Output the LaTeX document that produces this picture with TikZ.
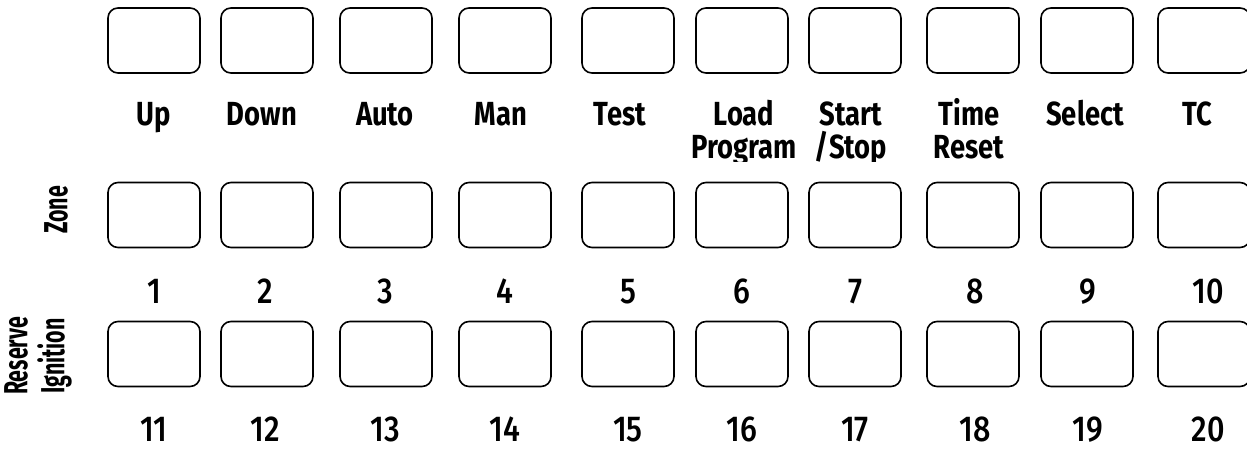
\documentclass[tikz,border=0pt]{standalone}
\usepackage{fontspec}
\setmainfont{Fira Sans}
\newfontfamily\labfont{Fira Sans}[FakeStretch=0.82]
\newfontfamily\numfont{Fira Sans}[FakeStretch=0.85,UprightFont=* Medium]
\newfontfamily\sidefont{Fira Sans}[FakeStretch=0.64]
\begin{document}
\begin{tikzpicture}[x=1pt,y=-1pt,
  key/.style={draw, line width=1.6pt, rounded corners=10pt, minimum width=92pt, minimum height=65pt, inner sep=0pt},
  lab/.style={font=\labfont\bfseries\fontsize{33.4}{33}\selectfont, align=center, anchor=base, inner sep=0pt},
  num/.style={font=\numfont\fontsize{36}{36}\selectfont, anchor=base, inner sep=0pt, text depth=0pt},
  side/.style={font=\sidefont\bfseries\fontsize{33.4}{37}\selectfont, align=center, rotate=90, inner sep=0pt}]
\clip (0,0) rectangle (1247,452);
\foreach \i/\x in {1/154,2/267,3/386,4/505,5/628,6/742,7/855,8/973,9/1087,10/1204} {
  \node[key] (t\i) at (\x,40.5) {};
  \node[key] (z\i) at (\x,215) {};
  \node[key] (r\i) at (\x,354) {};
}
\begin{scope}
\clip (0,0) rectangle (1247,161);
\foreach \n/\x/\y/\t in {up/154/125/Up, down/262/125/Down, auto/385/125/Auto, man/501/125/Man, test/620/125/Test,
  load/744/158/{Load\\Program}, start/851/158/{Start\\/Stop}, time/969/158/{Time\\Reset}, select/1085/125/Select, tc/1197/125/TC} {
  \node[lab] (l-\n) at (\x,\y) {\t};
}
\end{scope}
\foreach \a/\b/\x in {1/11/154,2/12/265,3/13/385,4/14/505,5/15/628,6/16/742,7/17/855,8/18/975,9/19/1088,10/20/1208} {
  \node[num] (n\a) at (\x,303) {\a};
  \node[num] (n\b) at (\x,441) {\b};
}
\node[side] (zone) at (56,210) {Zone};
\node[side] (resign) at (38,356) {Reserve\\Ignition};
\end{tikzpicture}
\end{document}
